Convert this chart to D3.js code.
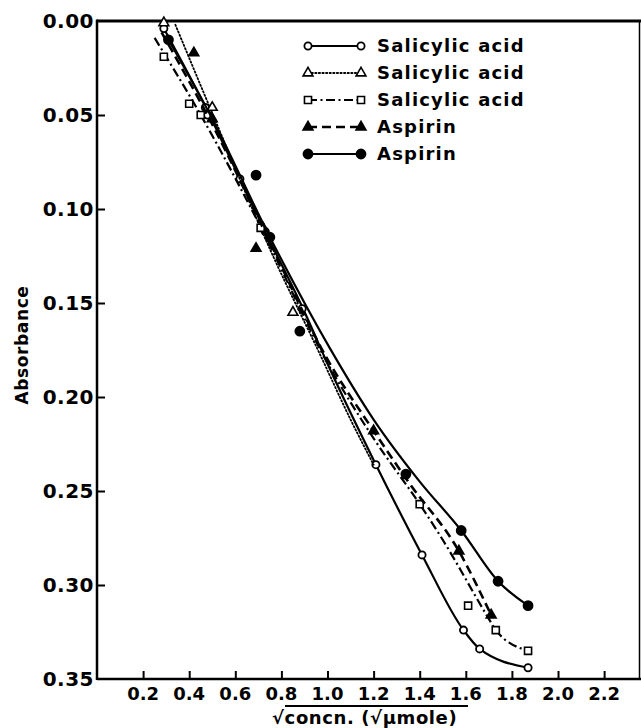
<!DOCTYPE html>
<html>
    <head>
        <meta charset="utf-8">
        <title>Absorbance vs sqrt concn.</title>
        <script type="text/javascript" src="https://d3js.org/d3.v7.min.js"></script>
        <style>
            body { margin: 0; background: #fff; }
            text { font-family: 'DejaVu Sans', sans-serif; font-weight: bold; fill: #000; }
        </style>
    </head>
    <body>
        <div class="div_d3"></div>

        <script type="text/javascript">
            // values: [sqrt concn, absorbance]
            var legendNames = [ 'Salicylic acid', 'Salicylic acid', 'Salicylic acid', 'Aspirin', 'Aspirin' ];

            var sal1Points = [ [0.29, 0.004], [0.47, 0.046], [0.48, 0.050], [0.62, 0.084], [0.73, 0.112], [0.89, 0.153],
                               [1.21, 0.236], [1.41, 0.284], [1.59, 0.324], [1.66, 0.334], [1.87, 0.344] ];
            var sal1Curve  = [ [0.29, 0.004], [0.48, 0.048], [0.62, 0.084], [0.75, 0.117], [0.89, 0.152], [1.01, 0.185],
                               [1.21, 0.236], [1.41, 0.284], [1.59, 0.324], [1.66, 0.334], [1.87, 0.344] ];

            var sal2Points = [ [0.29, 0.001], [0.50, 0.046], [0.72, 0.110], [0.85, 0.155] ];
            var sal2Curve  = [ [0.34, 0.002], [0.50, 0.049], [0.76, 0.124], [0.97, 0.178], [1.10, 0.212], [1.20, 0.236] ];

            var sal3Points = [ [0.29, 0.019], [0.40, 0.044], [0.45, 0.050], [0.71, 0.110], [1.40, 0.257], [1.61, 0.311],
                               [1.73, 0.324], [1.87, 0.335] ];
            var sal3Curve  = [ [0.25, 0.009], [0.45, 0.050], [0.72, 0.112], [1.00, 0.182], [1.20, 0.222], [1.40, 0.257],
                               [1.49, 0.274], [1.70, 0.318], [1.73, 0.324], [1.87, 0.335] ];

            var asp1Points = [ [0.42, 0.017], [0.50, 0.052], [0.69, 0.121], [1.20, 0.218], [1.57, 0.282], [1.71, 0.316] ];
            var asp1Curve  = [ [0.28, 0.006], [0.50, 0.055], [0.72, 0.110], [1.00, 0.180], [1.20, 0.218], [1.35, 0.245],
                               [1.57, 0.282], [1.71, 0.316] ];

            var asp2Points = [ [0.31, 0.010], [0.69, 0.082], [0.75, 0.115], [0.88, 0.165], [1.34, 0.241], [1.58, 0.271],
                               [1.74, 0.298], [1.87, 0.311] ];
            var asp2Curve  = [ [0.31, 0.010], [0.50, 0.052], [0.75, 0.115], [1.01, 0.174], [1.20, 0.212], [1.40, 0.245],
                               [1.58, 0.271], [1.74, 0.298], [1.87, 0.311] ];

            var xTicks = [ 0.2, 0.4, 0.6, 0.8, 1.0, 1.2, 1.4, 1.6, 1.8, 2.0, 2.2 ];
            var yTicks = [ 0.00, 0.05, 0.10, 0.15, 0.20, 0.25, 0.30, 0.35 ];

            var series = [
                { name: legendNames[0], marker: 'circleOpen',   dash: null,          width: 2.2, points: sal1Points, curve: sal1Curve },
                { name: legendNames[1], marker: 'triangleOpen', dash: '1.3,2.3',     width: 1.8, points: sal2Points, curve: sal2Curve },
                { name: legendNames[2], marker: 'square',       dash: '9,3.5,2,3.5', width: 2.2, points: sal3Points, curve: sal3Curve },
                { name: legendNames[3], marker: 'triangle',     dash: '9,5',         width: 2.6, points: asp1Points, curve: asp1Curve },
                { name: legendNames[4], marker: 'circle',       dash: null,          width: 2.2, points: asp2Points, curve: asp2Curve }
            ];

            let width = 641;
            let height = 728;

            let svg = d3.select('.div_d3')
                .append('svg')
                    .attr('width', width)
                    .attr('height', height);

            let x = d3.scaleLinear().domain([0, 2.36]).range([97, 641]);
            let y = d3.scaleLinear().domain([0, 0.35]).range([21, 679]);

            // frame
            svg.append('line')
                .attr('x1', x(0)).attr('x2', width).attr('y1', y(0)).attr('y2', y(0))
                .attr('stroke', '#000').attr('stroke-width', 3);
            svg.append('line')
                .attr('x1', x(0)).attr('x2', width).attr('y1', y(0.35)).attr('y2', y(0.35))
                .attr('stroke', '#000').attr('stroke-width', 2.5);
            svg.append('line')
                .attr('x1', x(0)).attr('x2', x(0)).attr('y1', y(0) - 1.5).attr('y2', y(0.35) + 1)
                .attr('stroke', '#000').attr('stroke-width', 2.5);
            svg.append('line')
                .attr('x1', 639.5).attr('x2', 639.5).attr('y1', y(0)).attr('y2', y(0.35))
                .attr('stroke', '#000').attr('stroke-width', 1.5);

            // y axis: ticks inside, labels left
            let yAxis = svg.append('g')
                .attr('transform', `translate(${x(0)},0)`)
                .call(d3.axisRight(y)
                    .tickValues(yTicks.filter(d => d > 0 && d < 0.35))
                    .tickSize(8)
                    .tickFormat(''));
            yAxis.select('.domain').remove();
            yAxis.selectAll('line').attr('stroke-width', 2);

            svg.selectAll('.ylab')
                .data(yTicks)
                .enter()
                .append('text')
                    .attr('class', 'ylab')
                    .attr('x', x(0) - 3)
                    .attr('y', d => y(d) + 7)
                    .attr('text-anchor', 'end')
                    .style('font-size', '20px')
                    .style('letter-spacing', '0.5px')
                    .text(d => d3.format('.2f')(d));

            // x axis: ticks inside, labels below
            let xAxis = svg.append('g')
                .attr('transform', `translate(0,${y(0.35)})`)
                .call(d3.axisTop(x)
                    .tickValues(xTicks)
                    .tickSize(8)
                    .tickFormat(''));
            xAxis.select('.domain').remove();
            xAxis.selectAll('line').attr('stroke-width', 2);

            svg.selectAll('.xlab')
                .data(xTicks)
                .enter()
                .append('text')
                    .attr('class', 'xlab')
                    .attr('x', d => x(d))
                    .attr('y', y(0.35) + 21)
                    .attr('text-anchor', 'middle')
                    .style('font-size', '18px')
                    .text(d => d3.format('.1f')(d));

            // axis titles
            svg.append('text')
                .attr('x', 272)
                .attr('y', 724)
                .style('font-size', '18px')
                .style('letter-spacing', '0.6px')
                .text('√concn. (√µmole)');
            svg.append('line')
                .attr('x1', 285).attr('x2', 468).attr('y1', 706).attr('y2', 706)
                .attr('stroke', '#000').attr('stroke-width', 2);

            svg.append('text')
                .attr('transform', 'translate(28,345) rotate(-90)')
                .attr('text-anchor', 'middle')
                .style('font-size', '17px')
                .style('letter-spacing', '0.6px')
                .text('Absorbance');

            // markers
            function drawMarker(g, kind, px, py) {
                if (kind === 'circleOpen' || kind === 'circle') {
                    g.append('circle')
                        .attr('cx', px).attr('cy', py)
                        .attr('r', kind === 'circle' ? 4.5 : 3.6)
                        .attr('fill', kind === 'circle' ? '#000' : '#fff')
                        .attr('stroke', '#000').attr('stroke-width', 1.8);
                } else {
                    let type = kind === 'square' ? d3.symbolSquare : d3.symbolTriangle;
                    g.append('path')
                        .attr('transform', `translate(${px},${py})`)
                        .attr('d', d3.symbol().type(type).size(kind === 'square' ? 50 : 42)())
                        .attr('fill', kind === 'triangle' ? '#000' : '#fff')
                        .attr('stroke', '#000').attr('stroke-width', 1.6);
                }
            }

            let line = d3.line()
                .x(d => x(d[0]))
                .y(d => y(d[1]))
                .curve(d3.curveMonotoneX);

            series.forEach(s => {
                svg.append('path')
                    .attr('d', line(s.curve))
                    .attr('fill', 'none')
                    .attr('stroke', '#000')
                    .attr('stroke-width', s.width)
                    .attr('stroke-linecap', s.marker === 'triangleOpen' ? 'round' : 'butt')
                    .attr('stroke-dasharray', s.dash);
                let g = svg.append('g');
                s.points.forEach(p => drawMarker(g, s.marker, x(p[0]), y(p[1])));
            });

            // legend
            let legend = svg.append('g');
            series.forEach((s, i) => {
                let ly = 46 + i * 27;
                legend.append('line')
                    .attr('x1', 308).attr('x2', 361).attr('y1', ly).attr('y2', ly)
                    .attr('stroke', '#000')
                    .attr('stroke-width', s.width)
                    .attr('stroke-linecap', s.marker === 'triangleOpen' ? 'round' : 'butt')
                    .attr('stroke-dasharray', s.dash);
                drawMarker(legend, s.marker, 308, ly);
                drawMarker(legend, s.marker, 361, ly);
                legend.append('text')
                    .attr('x', 377)
                    .attr('y', ly + 6)
                    .style('font-size', '18px')
                    .style('letter-spacing', '1.2px')
                    .text(s.name);
            });
        </script>
    </body>
</html>
